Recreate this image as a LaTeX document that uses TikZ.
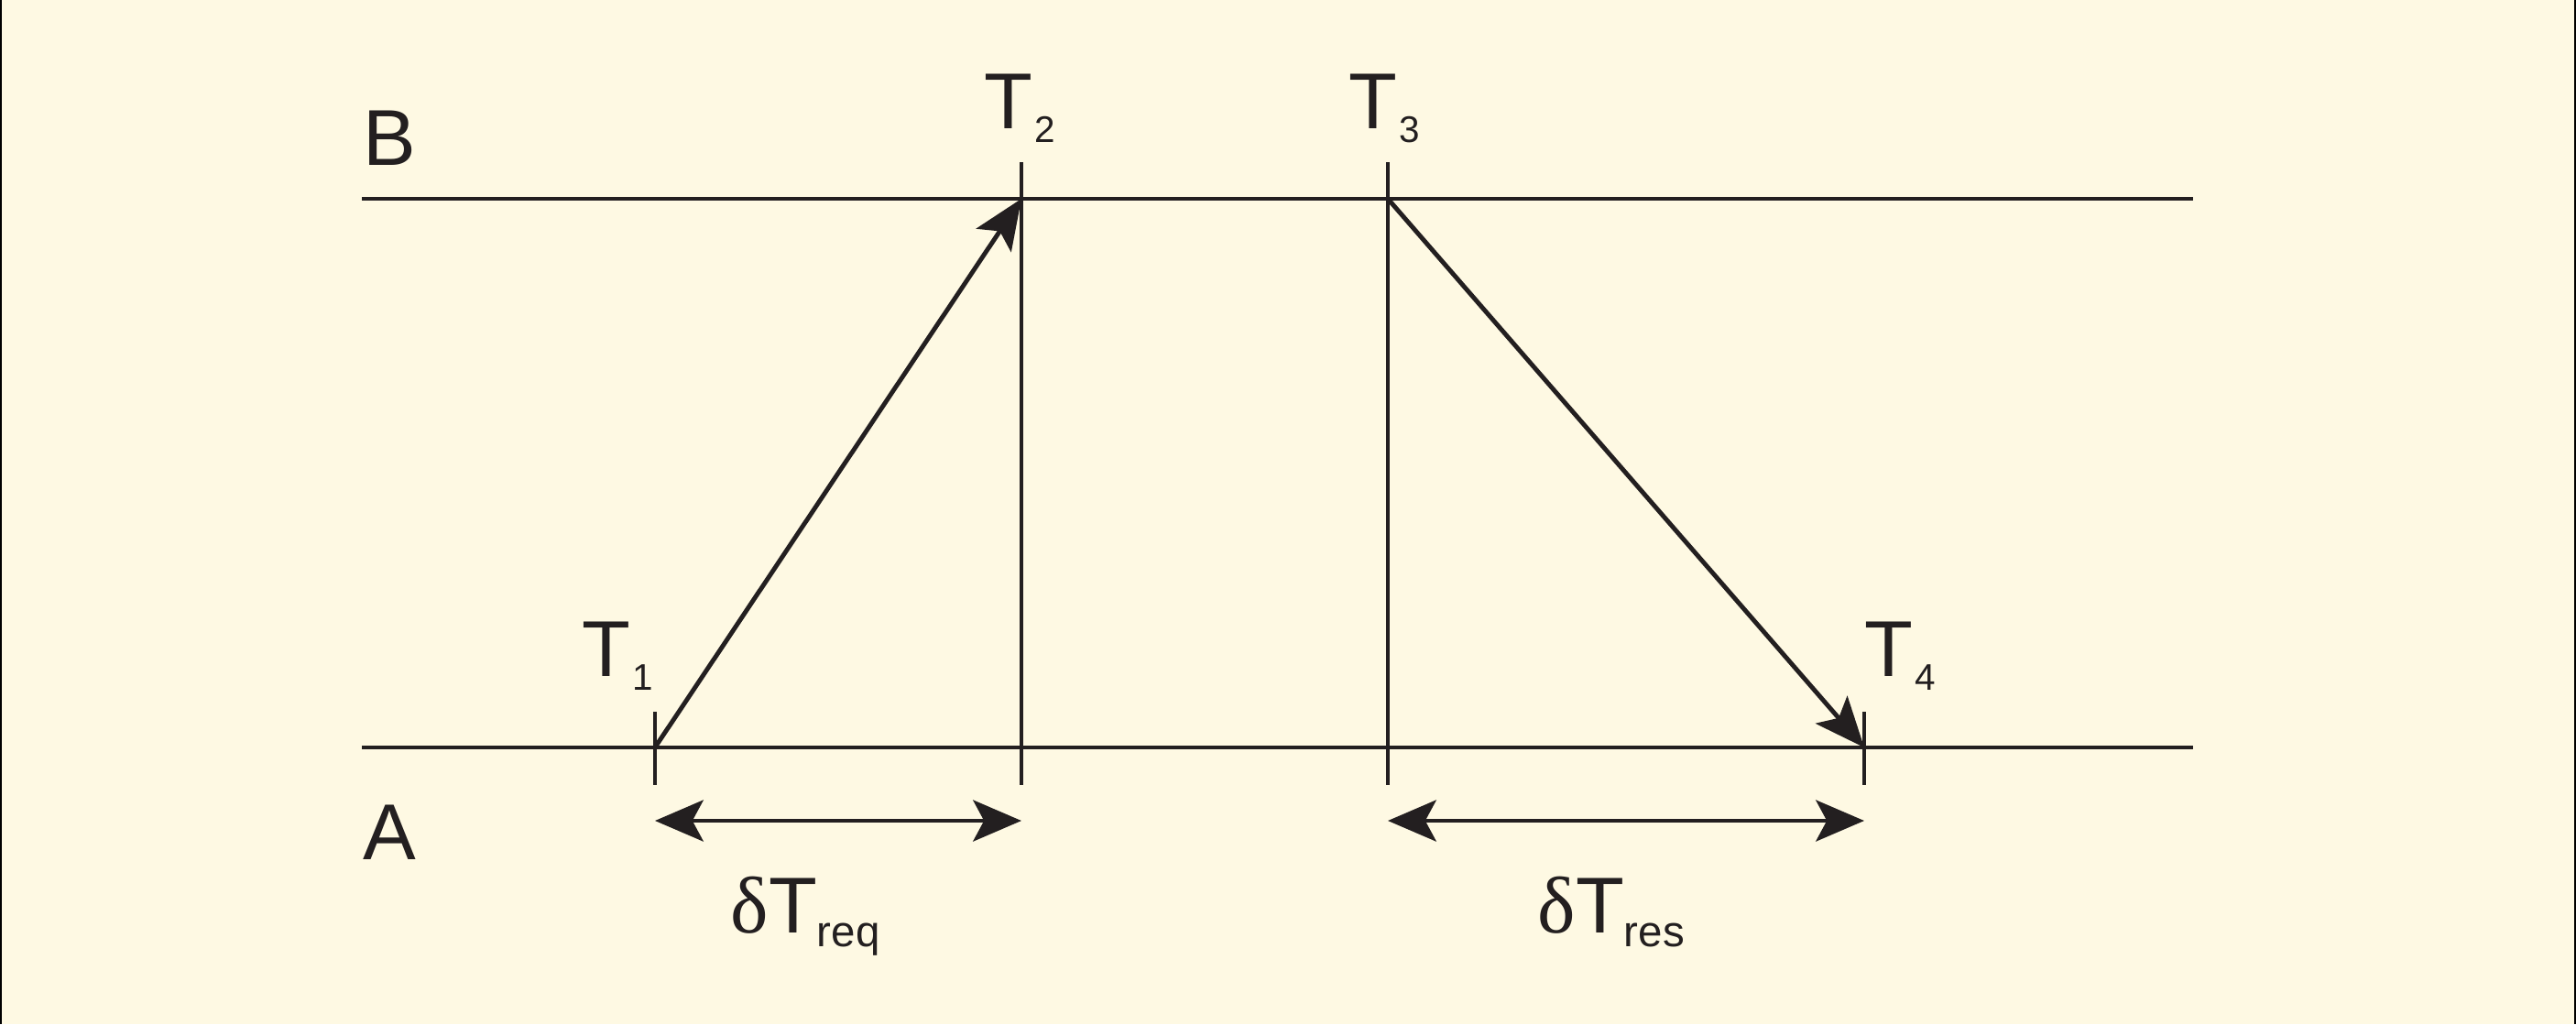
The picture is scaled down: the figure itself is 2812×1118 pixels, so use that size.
\documentclass[tikz,border=0pt]{standalone}
\usepackage{fontspec}
\setmainfont{Liberation Sans}
\newfontfamily\serifgr{Liberation Serif}
\usetikzlibrary{arrows.meta}
\definecolor{bg}{HTML}{FEF9E3}
\definecolor{inkc}{HTML}{231F20}
\newcommand\tlab[1]{T\hspace{0.6pt}\raisebox{-4.5pt}{\fontsize{11.5}{11.5}\selectfont #1}}
\newcommand\dlab[1]{{\serifgr\fontsize{25}{25}\selectfont δ}T\raisebox{-4.3pt}{\fontsize{13.5}{13.5}\selectfont #1}}
\begin{document}
\begin{tikzpicture}[x=0.01cm,y=-0.01cm,
  axis/.style={draw=inkc, line width=1.4pt},
  msg/.style={draw=inkc, line width=1.4pt, -{Stealth[length=15.5pt,width=13pt,inset=3.4pt]}},
  span/.style={draw=inkc, line width=1.4pt, {Stealth[length=15pt,width=12.8pt,inset=3.4pt]}-{Stealth[length=15pt,width=12.8pt,inset=3.4pt]}},
  lbl/.style={anchor=base west, inner sep=0pt, text=inkc, font=\fontsize{24.6}{24.6}\selectfont}]
\fill[bg] (0,0) rectangle (2812,1118);
\useasboundingbox (0,0) rectangle (2812,1118);
\draw[black, line width=0.6pt] (1,0) -- (1,1118);
\draw[black, line width=0.6pt] (2811,0) -- (2811,1118);
% coordinates
\coordinate (Bl) at (395,217);
\coordinate (Br) at (2394,217);
\coordinate (Al) at (395,816);
\coordinate (Ar) at (2394,816);
\coordinate (t1) at (715,816);
\coordinate (t1a) at (715,777);
\coordinate (t1b) at (715,857);
\coordinate (t2) at (1115,217);
\coordinate (t2a) at (1115,177);
\coordinate (t2b) at (1115,857);
\coordinate (t3) at (1515,217);
\coordinate (t3a) at (1515,177);
\coordinate (t3b) at (1515,857);
\coordinate (t4) at (2035,816);
\coordinate (t4a) at (2035,777);
\coordinate (t4b) at (2035,857);
\coordinate (d1) at (715,896);
\coordinate (d2) at (1115,896);
\coordinate (d3) at (1515,896);
\coordinate (d4) at (2035,896);
% axes
\draw[axis] (Bl) -- (Br);
\draw[axis] (Al) -- (Ar);
\draw[axis] (t1a) -- (t1b);
\draw[axis] (t2a) -- (t2b);
\draw[axis] (t3a) -- (t3b);
\draw[axis] (t4a) -- (t4b);
% messages
\draw[msg] (t1) -- (t2);
\draw[msg] (t3) -- (t4);
% spans
\draw[span] (d1) -- (d2);
\draw[span] (d3) -- (d4);
% labels
\node[lbl] (labB) at (396,180) {B};
\node[lbl] (labA) at (396,938) {A};
\node[lbl] (labT1) at (635,738) {\tlab{1}};
\node[lbl] (labT2) at (1074,140) {\tlab{2}};
\node[lbl] (labT3) at (1472,140) {\tlab{3}};
\node[lbl] (labT4) at (2035,738) {\tlab{4}};
\node[lbl] (labreq) at (797,1018) {\dlab{req}};
\node[lbl] (labres) at (1678,1018) {\dlab{res}};
\end{tikzpicture}
\end{document}
